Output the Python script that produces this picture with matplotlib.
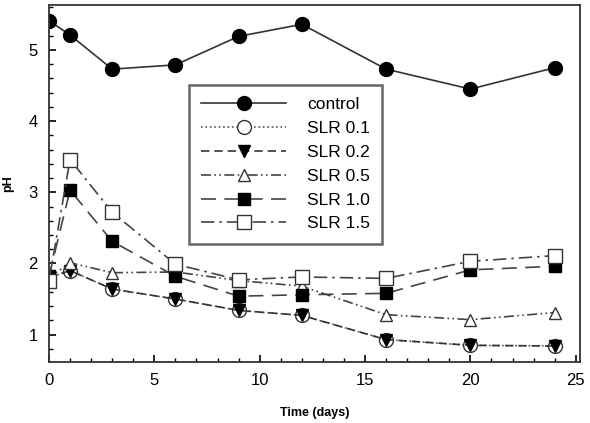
import numpy as np
import matplotlib.pyplot as plt
from matplotlib.ticker import MultipleLocator

plt.rcParams['font.family'] = ['Liberation Sans', 'DejaVu Sans']

days = [0, 1, 3, 6, 9, 12, 16, 20, 24]
control = [5.41, 5.21, 4.73, 4.79, 5.19, 5.36, 4.73, 4.45, 4.75]
slr01 = [1.80, 1.90, 1.64, 1.50, 1.34, 1.27, 0.93, 0.85, 0.84]
slr02 = [1.80, 1.90, 1.64, 1.50, 1.34, 1.27, 0.93, 0.85, 0.84]
slr05 = [1.80, 2.01, 1.87, 1.88, 1.76, 1.68, 1.28, 1.21, 1.31]
slr10 = [1.82, 3.03, 2.31, 1.82, 1.54, 1.56, 1.58, 1.91, 1.96]
slr15 = [1.75, 3.46, 2.72, 1.99, 1.77, 1.81, 1.79, 2.03, 2.11]

fig, ax = plt.subplots(figsize=(5.9, 4.23), dpi=100)
fig.subplots_adjust(left=0.083, right=0.983, top=0.988, bottom=0.145)

ax.plot(days, control, '-', color='#333333', lw=1.2, marker='o', ms=10,
        mfc='black', mec='black', label='control')
ax.plot(days, slr01, ':', color='#555555', lw=1.2, marker='o', ms=10,
        mfc='white', mec='#333333', label='SLR 0.1')
ax.plot(days, slr02, color='#333333', lw=1.2, dashes=(5, 3), marker='v', ms=9,
        mfc='black', mec='black', label='SLR 0.2')
ax.plot(days, slr05, color='#444444', lw=1.2, dashes=(6, 2, 1, 2, 1, 2), marker='^', ms=9,
        mfc='white', mec='#333333', label='SLR 0.5')
ax.plot(days, slr10, color='#444444', lw=1.2, dashes=(9, 5), marker='s', ms=9,
        mfc='black', mec='black', label='SLR 1.0')
ax.plot(days, slr15, color='#444444', lw=1.2, dashes=(8, 3, 1.5, 3), marker='s', ms=10,
        mfc='white', mec='#333333', label='SLR 1.5')

ax.set_xlim(0, 25.2)
ax.set_ylim(0.62, 5.63)
ax.xaxis.set_major_locator(MultipleLocator(5))
ax.xaxis.set_minor_locator(MultipleLocator(1))
ax.yaxis.set_major_locator(MultipleLocator(1))
ax.yaxis.set_minor_locator(MultipleLocator(0.2))
ax.tick_params(which='both', direction='in', top=False, right=False, labelsize=12, pad=8)
ax.tick_params(which='major', length=5, width=1.2)
ax.tick_params(which='minor', length=3, width=1)
for s in ax.spines.values():
    s.set_linewidth(1.3)
    s.set_color('#333333')

ax.set_xlabel('Time (days)', fontsize=9, fontweight='bold', labelpad=14)
ax.set_ylabel('pH', fontsize=9, fontweight='bold', labelpad=10)

leg = ax.legend(loc='upper left', bbox_to_anchor=(0.264, 0.776), fontsize=12.5,
                handlelength=4.9, handletextpad=1.2, labelspacing=0.5,
                borderpad=0.7, borderaxespad=0, fancybox=False, framealpha=1)
leg.get_frame().set_edgecolor('#666666')
leg.get_frame().set_linewidth(1.8)

plt.savefig('out.png')
